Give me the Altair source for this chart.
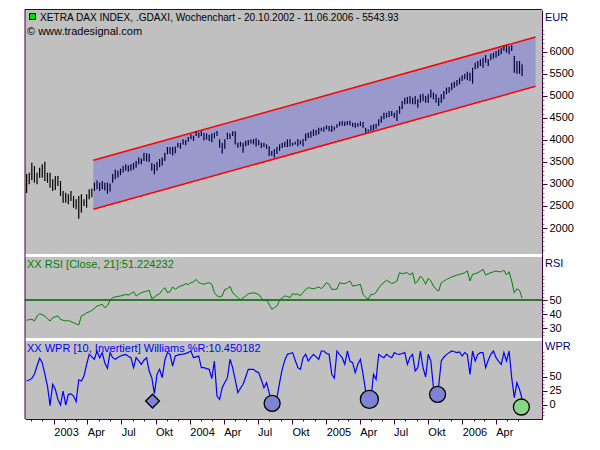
import altair as alt
import pandas as pd

# ---------------- data ----------------
week_first = "2002-10-20"   # first weekly bar; one bar per week up to 11.06.2006

price_low = [
    2795, 2993, 3084, 3030, 2993, 3143, 3143, 3068, 3030, 2916,
    2841, 2864, 2955, 2727, 2575, 2575, 2538, 2614, 2461, 2425,
    2211, 2348, 2500, 2461, 2652, 2700, 2840, 2880, 2840, 2880,
    2850, 2780, 2830, 3030, 3110, 3150, 3200, 3260, 3300, 3280,
    3300, 3330, 3370, 3450, 3450, 3520, 3510, 3500, 3300, 3220,
    3300, 3380, 3420, 3520, 3675, 3680, 3650, 3700, 3830, 3800,
    3900, 3880, 3960, 4015, 3980, 4090, 4050, 4090, 3990, 4010,
    3980, 3950, 4040, 4090, 3825, 3690, 3800, 4015, 4020, 4090,
    3900, 3825, 3850, 3710, 3860, 3880, 3920, 3900, 3850, 3880,
    3820, 3840, 3800, 3636, 3640, 3600, 3680, 3750, 3820, 3840,
    3840, 3850, 3870, 3900, 3860, 3900, 3860, 3980, 4040, 4050,
    4090, 4100, 4130, 4200, 4190, 4243, 4200, 4180, 4220, 4280,
    4318, 4330, 4320, 4340, 4330, 4300, 4280, 4300, 4320, 4280,
    4166, 4190, 4205, 4220, 4257, 4318, 4393, 4470, 4507, 4523,
    4545, 4507, 4432, 4598, 4697, 4810, 4825, 4825, 4810, 4810,
    4735, 4848, 4886, 4848, 4848, 4960, 4925, 4848, 4773, 4848,
    4925, 5040, 5076, 5130, 5190, 5227, 5265, 5341, 5379, 5356,
    5341, 5280, 5606, 5629, 5682, 5643, 5757, 5682, 5810, 5848,
    5871, 5909, 5947, 6023, 5985, 5947, 6023, 5530, 5507, 5507,
    5455,
]
price_high = [
    3227, 3257, 3484, 3409, 3257, 3371, 3447, 3507, 3257, 3257,
    3107, 3182, 3182, 3068, 2841, 2803, 2765, 2841, 2727, 2652,
    2727, 2765, 2652, 2765, 2880, 2900, 3030, 3080, 3030, 3070,
    3030, 3030, 3010, 3230, 3330, 3300, 3350, 3410, 3450, 3420,
    3450, 3480, 3520, 3600, 3580, 3710, 3700, 3690, 3480, 3450,
    3500, 3570, 3600, 3710, 3840, 3840, 3840, 3850, 3940, 3930,
    4015, 4000, 4070, 4130, 4100, 4200, 4170, 4205, 4160, 4150,
    4120, 4150, 4170, 4205, 4015, 3940, 4015, 4166, 4150, 4200,
    4200, 3940, 3960, 3940, 3990, 4000, 4010, 4020, 4040, 4000,
    3940, 3940, 3900, 3860, 3750, 3790, 3840, 3900, 3940, 3960,
    4015, 4015, 3940, 3960, 4020, 3990, 4020, 4150, 4170, 4200,
    4240, 4230, 4280, 4280, 4300, 4333, 4320, 4330, 4300, 4360,
    4416, 4430, 4420, 4430, 4440, 4390, 4390, 4380, 4420, 4410,
    4280, 4240, 4333, 4357, 4371, 4470, 4545, 4620, 4620, 4659,
    4659, 4620, 4674, 4773, 4886, 4960, 4977, 5000, 4960, 5000,
    4925, 5038, 5053, 5000, 5038, 5150, 5076, 5038, 4960, 5038,
    5114, 5190, 5205, 5303, 5326, 5364, 5416, 5470, 5507, 5553,
    5530, 5643, 5757, 5795, 5833, 5870, 5932, 5833, 5962, 5985,
    6023, 6060, 6098, 6136, 6160, 6136, 6160, 5910, 5795, 5795,
    5720,
]
rsi_values = [
    35.5, 36.0, 36.3, 35.0, 38.5, 40.2, 39.5, 38.6, 36.5, 35.0,
    37.4, 38.0, 38.6, 36.2, 35.5, 35.0, 35.3, 34.6, 33.8, 33.0,
    32.1, 38.6, 39.5, 40.9, 41.5, 42.6, 44.0, 45.7, 46.2, 47.0,
    44.5, 46.0, 49.8, 51.7, 52.2, 52.5, 52.9, 53.5, 54.0, 53.5,
    54.5, 55.9, 52.9, 54.0, 55.2, 55.8, 56.4, 56.9, 51.0, 52.0,
    53.5, 54.5, 56.9, 58.8, 55.2, 56.0, 59.3, 57.6, 59.0, 60.0,
    60.5, 61.7, 61.0, 62.4, 63.0, 64.7, 62.4, 61.8, 61.2, 62.0,
    62.4, 61.2, 55.2, 53.0, 52.1, 52.9, 57.6, 58.1, 59.8, 55.2,
    53.5, 51.7, 50.0, 51.5, 52.9, 54.5, 54.8, 55.2, 54.6, 54.0,
    51.5, 49.3, 50.5, 46.9, 43.4, 44.5, 45.7, 49.8, 51.5, 52.9,
    52.5, 51.7, 54.5, 54.0, 54.2, 53.0, 55.5, 57.6, 58.8, 58.4,
    58.1, 58.6, 59.3, 58.1, 60.0, 62.4, 61.2, 57.6, 57.6, 57.8,
    62.4, 61.9, 61.7, 62.5, 63.6, 60.0, 60.3, 60.7, 61.2, 54.0,
    52.0, 50.5, 54.0, 54.0, 55.5, 58.5, 61.0, 62.5, 64.1, 63.0,
    61.7, 62.5, 63.6, 69.5, 68.8, 69.2, 69.5, 67.9, 69.5, 61.7,
    63.6, 67.1, 65.0, 61.2, 65.5, 63.6, 60.0, 57.6, 56.4, 62.4,
    63.5, 64.7, 65.5, 66.5, 67.1, 67.8, 68.3, 68.8, 69.5, 70.7,
    63.6, 68.3, 68.8, 69.5, 70.5, 71.9, 67.9, 68.8, 69.5, 70.2,
    70.7, 70.2, 70.2, 71.2, 67.9, 70.2, 63.6, 55.2, 58.0, 56.9,
    51.22,
]
wpr_values = [
    42.9, 44.5, 47.5, 55.0, 69.6, 83.4, 75.6, 55.0, 33.9, -1.0,
    37.0, 28.0, 10.0, 0.0, 25.0, 0.0, 19.0, 20.0, 16.0, 6.0,
    45.0, 42.9, 51.8, 72.0, 90.5, 86.0, 81.6, 96.4, 84.5, 93.5,
    75.0, 65.5, 93.5, 84.5, 81.6, 85.0, 87.5, 89.0, 90.5, 87.0,
    84.5, 66.7, 84.5, 78.6, 72.6, 80.0, 84.5, 60.7, 48.8, 20.2,
    54.8, 63.7, 48.8, 80.0, 93.5, 90.5, 69.6, 87.5, 89.0, 90.5,
    91.0, 91.7, 94.0, 96.4, 84.5, 86.0, 87.5, 66.7, 66.7, 65.0,
    63.7, 47.0, 78.6, 16.0, 10.1, 30.9, 40.0, 48.8, 81.6, 66.7,
    45.0, 22.0, 30.0, 37.0, 50.0, 63.7, 63.7, 63.7, 60.0, 57.7,
    45.0, 30.9, 39.8, 22.0, 1.2, 10.0, 13.0, 39.8, 63.7, 80.0,
    90.5, 92.0, 93.5, 80.0, 66.7, 63.7, 84.5, 90.5, 78.6, 85.0,
    90.5, 86.0, 81.6, 96.4, 96.4, 92.0, 90.5, 54.8, 48.0, 96.4,
    90.0, 84.5, 72.6, 96.4, 78.0, 75.6, 57.7, 72.6, 81.6, 55.0,
    25.0, 19.0, 8.3, 54.8, 45.8, 90.5, 87.0, 84.5, 90.5, 87.0,
    84.5, 93.5, 91.0, 90.5, 92.0, 93.5, 72.6, 85.0, 90.5, 60.7,
    66.7, 96.4, 66.7, 50.0, 90.5, 78.6, 30.9, 22.0, 33.9, 78.6,
    85.7, 90.0, 93.5, 96.4, 95.0, 93.5, 94.9, 87.5, 93.5, 90.0,
    54.8, 96.4, 78.6, 90.5, 93.5, 93.5, 66.7, 80.0, 90.5, 96.4,
    84.5, 78.0, 72.6, 93.5, 78.6, 96.4, 48.8, 13.0, 39.8, 28.0,
    10.45,
]

channel_dates = ["2003-04-17", "2006-07-17"]
channel_upper = [3539, 6341]
channel_lower = [2425, 5220]

signal_dates = ["2003-09-23", "2004-08-09", "2005-04-27", "2005-10-27", "2006-06-09"]
signal_values = [7.0, 3.0, 10.0, 19.0, -3.6]

title_text = "XETRA DAX INDEX, .GDAXI, Wochenchart - 20.10.2002 - 11.06.2006 - 5543.93"
copyright_text = "\u00a9 www.tradesignal.com"
rsi_title = "XX RSI [Close, 21]:51.224232"
wpr_title = "XX WPR [10, Invertiert] Williams %R:10.450182"

price_ticks = list(range(1500, 6600, 100))
rsi_ticks = [25 + 2.5 * k for k in range(18)]
wpr_ticks = [-18.75 + 6.25 * k for k in range(19)]
month_ticks = [(2002, 11), (2002, 12)] + [(y, m) for y in (2003, 2004, 2005) for m in range(1, 13)] + [(2006, m) for m in range(1, 7)]

# ---------------- tables ----------------
dates = pd.date_range(week_first, periods=len(price_low), freq="7D")
df = pd.DataFrame({"date": dates, "low": price_low, "high": price_high,
                   "rsi": rsi_values, "wpr": wpr_values})
df["inside"] = df["date"] >= pd.Timestamp(channel_dates[0])
chan = pd.DataFrame({"date": pd.to_datetime(channel_dates), "upper": channel_upper, "lower": channel_lower})
sig = pd.DataFrame({"date": pd.to_datetime(signal_dates), "wpr": signal_values})
one = pd.DataFrame({"t": [""]})

# ---------------- style ----------------
W, H_P, H_R, H_W = 517, 244, 84, 81
FONT = "Liberation Sans"
FRAME = "#400040"
NAVY = "#000070"

x_scale = alt.Scale(domain=[alt.DateTime(year=2002, month=10, date=15, hours=17),
                            alt.DateTime(year=2006, month=8, date=3, hours=8)])

x_axis = alt.Axis(
    values=[alt.DateTime(year=y, month=m, date=1) for (y, m) in month_ticks],
    labelExpr="month(datum.value) == 0 ? timeFormat(datum.value, '%Y') : month(datum.value) == 3 ? 'Apr' : "
              "month(datum.value) == 6 ? 'Jul' : month(datum.value) == 9 ? 'Okt' : ''",
    tickSize={"condition": {"test": "month(datum.value) % 3 == 0", "value": 5}, "value": 2},
    tickColor=FRAME, domainColor=FRAME, domainWidth=1,
    labelAlign="left", labelBaseline="top", labelFont=FONT, labelFontSize=11,
    labelColor="black", labelPadding=2, labelOverlap=False, labelFlush=False,
    grid=False, title=None)


def xenc(axis=None):
    return alt.X("date:T", scale=x_scale, axis=axis)


def yaxis(values, major_test, label_test):
    return alt.Axis(orient="right", values=values, format="d",
                    labelExpr=f"({label_test}) ? datum.label : ''",
                    tickSize={"condition": {"test": major_test, "value": 5}, "value": 2},
                    tickColor={"condition": {"test": major_test, "value": FRAME}, "value": "#8a8a8a"},
                    domainColor=FRAME, domainWidth=1, labelFont=FONT, labelFontSize=11,
                    labelColor="black", labelPadding=2, labelOverlap=False, labelFlush=False,
                    grid=False, title=None)


price_scale = alt.Scale(domain=[1409.1, 6954.5], nice=False, zero=False)
price_axis = yaxis(price_ticks, "datum.value % 500 == 0 && datum.value >= 2000 && datum.value <= 6000",
                   "datum.value % 500 == 0 && datum.value >= 2000 && datum.value <= 6000")
rsi_scale = alt.Scale(domain=[22.86, 82.86], nice=False, zero=False)
rsi_axis = yaxis(rsi_ticks, "datum.value == 30 || datum.value == 40 || datum.value == 50",
                 "datum.value == 30 || datum.value == 40 || datum.value == 50")
wpr_scale = alt.Scale(domain=[-25, 119.64], nice=False, zero=False)
wpr_axis = yaxis(wpr_ticks, "datum.value == 0 || datum.value == 25 || datum.value == 50",
                 "datum.value == 0 || datum.value == 25 || datum.value == 50")


def py(field):
    return alt.Y(field, type="quantitative", scale=price_scale, axis=price_axis)


def ry(field):
    return alt.Y(field, type="quantitative", scale=rsi_scale, axis=rsi_axis)


def wy(field):
    return alt.Y(field, type="quantitative", scale=wpr_scale, axis=wpr_axis)


def label(text, x, y, color, size=11):
    return alt.Chart(pd.DataFrame({"t": [text]})).mark_text(
        align="left", baseline="middle", font=FONT, fontSize=size, color=color
    ).encode(x=alt.value(x), y=alt.value(y), text="t:N")


def left_border(h, top=0):
    return alt.Chart(one).mark_rule(color=FRAME, strokeWidth=1).encode(
        x=alt.value(0), y=alt.value(top), y2=alt.value(h))


def separator():
    return alt.Chart(one).mark_rect(color="white").encode(
        x=alt.value(0), x2=alt.value(W), y=alt.value(0), y2=alt.value(3))


# ---------------- price panel ----------------
area = alt.Chart(chan).mark_area(color="#9999CC", opacity=1).encode(x=xenc(), y=py("upper"), y2="lower:Q")
up_line = alt.Chart(chan).mark_line(color="#FF0000", strokeWidth=1.5).encode(x=xenc(), y=py("upper"))
lo_line = alt.Chart(chan).mark_line(color="#FF0000", strokeWidth=1.5).encode(x=xenc(), y=py("lower"))
bars = alt.Chart(df).mark_rule(strokeWidth=1.2).encode(
    x=xenc(), y=py("low"), y2="high:Q",
    color=alt.condition("datum.inside", alt.value("#000040"), alt.value("#000000")))
top_border = alt.Chart(one).mark_rule(color=FRAME, strokeWidth=1).encode(
    x=alt.value(0), x2=alt.value(W), y=alt.value(-0.5))
icon = alt.Chart(one).mark_point(shape="square", size=36, filled=True, fill="#00E000",
                                 stroke="black", strokeWidth=1, opacity=1).encode(
    x=alt.value(7.5), y=alt.value(6.5))

price_panel = alt.layer(
    area, up_line, lo_line, bars, top_border, left_border(H_P, -1), icon,
    label(title_text, 15, 7.5, "black", 10.1),
    label(copyright_text, 2, 22, "black"),
    label("EUR", 520, 7.7, NAVY),
).properties(width=W, height=H_P)

# ---------------- RSI panel ----------------
rsi_level = alt.Chart(pd.DataFrame({"level": [50]})).mark_rule(color="#006000", strokeWidth=1.5).encode(y=ry("level"))
rsi_line = alt.Chart(df).mark_line(color="#008000", strokeWidth=1).encode(x=xenc(), y=ry("rsi"))
rsi_panel = alt.layer(
    separator(), rsi_level, rsi_line, left_border(H_R),
    label(rsi_title, 2, 11, "#008000"),
    label("RSI", 520, 10, NAVY),
).properties(width=W, height=H_R)

# ---------------- WPR panel ----------------
wpr_line = alt.Chart(df).mark_line(color="#0000FF", strokeWidth=1.2).encode(x=xenc(x_axis), y=wy("wpr"))
blue = "#7D84D6"
m1 = alt.Chart(sig.iloc[[0]]).mark_point(shape="diamond", size=190, filled=True, fill=blue,
                                         stroke="black", strokeWidth=1.3, opacity=1).encode(x=xenc(x_axis), y=wy("wpr"))
m2 = alt.Chart(sig.iloc[[1, 3]]).mark_circle(size=256, fill=blue, stroke="black",
                                             strokeWidth=1.3, opacity=1).encode(x=xenc(x_axis), y=wy("wpr"))
m3 = alt.Chart(sig.iloc[[2]]).mark_circle(size=324, fill=blue, stroke="black",
                                          strokeWidth=1.3, opacity=1).encode(x=xenc(x_axis), y=wy("wpr"))
m4 = alt.Chart(sig.iloc[[4]]).mark_circle(size=256, fill="#86D686", stroke="black",
                                          strokeWidth=1.3, opacity=1).encode(x=xenc(x_axis), y=wy("wpr"))

wpr_panel = alt.layer(
    separator(), wpr_line, m1, m2, m3, m4, left_border(H_W),
    label(wpr_title, 2, 10.5, "#0000FF"),
    label("WPR", 520, 8.5, NAVY),
).properties(width=W, height=H_W)

chart = alt.vconcat(price_panel, rsi_panel, wpr_panel, spacing=0, bounds="flush").properties(
    background="white",
    padding={"left": 16, "top": 0, "right": 4, "bottom": 4},
).configure_view(fill="#C0C0C0", strokeWidth=0)

chart.save("out.html", embed_options={"renderer": "svg", "actions": False})
